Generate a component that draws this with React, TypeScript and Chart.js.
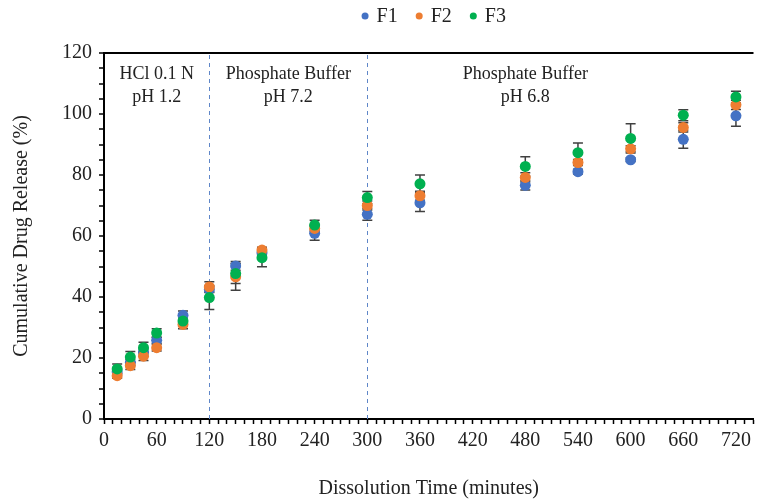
import React, { useEffect, useRef } from 'react';
import { Chart, registerables } from 'chart.js';

Chart.register(...registerables);

const times = [15, 30, 45, 60, 90, 120, 150, 180, 240, 300, 360, 480, 540, 600, 660, 720];
const f1 = [15.5, 18.5, 22, 25.8, 34, 42.5, 50.2, 54.5, 60.9, 67.1, 70.9, 76.6, 81.1, 85, 91.7, 99.4];
const f1Err = [1, 1, 1, 1, 1.4, 1, 1.4, 1, 2.3, 1.9, 2.9, 1.5, 0.8, 0.6, 2.9, 3.4];
const f2 = [14.2, 17.5, 20.6, 23.4, 31, 43.3, 46.6, 55.4, 62.5, 70, 73.2, 79.2, 84.1, 88.6, 95.6, 103];
const f2Err = [0.8, 1.3, 1.4, 1.1, 1.4, 1.7, 4.4, 0.9, 1, 1.5, 1.5, 1.5, 1, 1, 1.5, 1.5];
const f3 = [16.4, 20.3, 23.4, 28.2, 32.1, 39.8, 47.7, 52.9, 63.6, 72.6, 77.1, 82.8, 87.3, 92, 99.6, 105.6];
const f3Err = [1.6, 1.8, 1.8, 1.4, 1, 3.9, 3.3, 3, 1.6, 2, 2.9, 3.2, 3.2, 4.8, 1.8, 1.9];

const seriesNames = ['F1', 'F2', 'F3'];
const seriesColors = ['#4472C4', '#ED7D31', '#00B050'];

const phaseBoundaries = [120, 300];
const phaseLabelX = [60, 210, 480];
const phaseLabelLines = [
  ['HCl 0.1 N', 'pH 1.2'],
  ['Phosphate Buffer', 'pH 7.2'],
  ['Phosphate Buffer', 'pH 6.8'],
];
const phaseLabelY = [113, 105.5];

const FONT = "'Liberation Serif', 'Times New Roman', serif";

const errorBarPlugin = {
  id: 'errorBars',
  beforeDatasetsDraw(chart: any) {
    const { ctx, scales } = chart;
    const y = scales.y;
    const x = scales.x;
    const area = chart.chartArea;
    ctx.save();
    ctx.strokeStyle = '#5F86C8';
    ctx.lineWidth = 1;
    ctx.setLineDash([4, 4]);
    phaseBoundaries.forEach((b) => {
      const px = Math.round(x.getPixelForValue(b)) + 0.5;
      ctx.beginPath();
      ctx.moveTo(px, area.top + 2);
      ctx.lineTo(px, area.bottom);
      ctx.stroke();
    });
    ctx.restore();

    ctx.save();
    ctx.strokeStyle = '#404040';
    ctx.lineWidth = 1.5;
    chart.data.datasets.forEach((ds: any, di: number) => {
      const meta = chart.getDatasetMeta(di);
      const errs = ds.errors as number[];
      meta.data.forEach((pt: any, i: number) => {
        const v = ds.data[i].y;
        const e = errs[i];
        const yt = y.getPixelForValue(v + e);
        const yb = y.getPixelForValue(v - e);
        const px = pt.x;
        ctx.beginPath();
        ctx.moveTo(px, yt);
        ctx.lineTo(px, yb);
        ctx.moveTo(px - 5, yt);
        ctx.lineTo(px + 5, yt);
        ctx.moveTo(px - 5, yb);
        ctx.lineTo(px + 5, yb);
        ctx.stroke();
      });
    });
    ctx.restore();
  },
  afterDatasetsDraw(chart: any) {
    const { ctx, scales } = chart;
    ctx.save();
    ctx.fillStyle = '#222';
    ctx.font = `18px ${FONT}`;
    ctx.textAlign = 'center';
    ctx.textBaseline = 'middle';
    phaseLabelX.forEach((lx, i) => {
      const px = scales.x.getPixelForValue(lx);
      phaseLabelLines[i].forEach((line, j) => {
        ctx.fillText(line, px, scales.y.getPixelForValue(phaseLabelY[j]));
      });
    });
    ctx.restore();
  },
  afterDraw(chart: any) {
    const { ctx, chartArea } = chart;
    ctx.save();
    ctx.font = `20px ${FONT}`;
    ctx.textBaseline = 'middle';
    ctx.textAlign = 'left';
    const r = 3.5;
    const gapCircleText = 8;
    const gapItems = 18;
    const widths = seriesNames.map((n) => ctx.measureText(n).width);
    const total = widths.reduce((s, w) => s + 2 * r + gapCircleText + w, 0) + gapItems * (seriesNames.length - 1);
    let cx = (chartArea.left + chartArea.right) / 2 + 5 - total / 2;
    const cy = 16;
    seriesNames.forEach((n, i) => {
      ctx.fillStyle = seriesColors[i];
      ctx.beginPath();
      ctx.arc(cx + r, cy, r, 0, Math.PI * 2);
      ctx.fill();
      cx += 2 * r + gapCircleText;
      ctx.fillStyle = '#222';
      ctx.fillText(n, cx, cy + 1);
      cx += widths[i] + gapItems;
    });
    ctx.restore();
  },
};

export default function App() {
  const ref = useRef<HTMLCanvasElement>(null);
  useEffect(() => {
    if (!ref.current) return;
    const values = [f1, f2, f3];
    const errs = [f1Err, f2Err, f3Err];
    const chart = new Chart(ref.current, {
      type: 'scatter',
      data: {
        datasets: seriesNames.map((name, si) => ({
          label: name,
          data: times.map((t, i) => ({ x: t, y: values[si][i] })),
          errors: errs[si],
          backgroundColor: seriesColors[si],
          borderColor: seriesColors[si],
          borderWidth: 0,
          pointRadius: 5.5,
          pointHoverRadius: 5.5,
          order: 3 - si,
        })) as any,
      },
      options: {
        responsive: false,
        animation: false,
        devicePixelRatio: 1,
        layout: { padding: { top: 53, right: 2, bottom: 0, left: 0 } },
        plugins: {
          tooltip: { enabled: false },
          legend: { display: false },
        },
        scales: {
          x: {
            type: 'linear',
            min: 0,
            max: 740,
            afterFit: (s: any) => { s.height = 83; },
            border: { display: true, color: '#000', width: 2 },
            grid: {
              drawOnChartArea: false,
              drawTicks: true,
              tickLength: 5,
              tickColor: '#000',
              tickWidth: 1.5,
            },
            ticks: {
              stepSize: 10,
              autoSkip: false,
              maxRotation: 0,
              padding: 5,
              color: '#222',
              font: { family: FONT, size: 20 },
              callback: (v: any) => (v % 60 === 0 ? String(v) : ''),
            },
            title: {
              display: true,
              text: 'Dissolution Time (minutes)',
              color: '#222',
              font: { family: FONT, size: 20 },
              padding: { top: 4, bottom: 1 },
            },
          },
          y: {
            type: 'linear',
            min: 0,
            max: 120,
            afterFit: (s: any) => { s.width = 104; },
            border: { display: true, color: '#000', width: 2 },
            grid: {
              drawOnChartArea: true,
              drawTicks: true,
              tickLength: 5,
              tickColor: '#000',
              tickWidth: 1.5,
              color: (c: any) => (c.tick && c.tick.value === 120 ? '#000' : 'rgba(0,0,0,0)'),
              lineWidth: (c: any) => (c.tick && c.tick.value === 120 ? 2 : 0),
            },
            ticks: {
              stepSize: 5,
              autoSkip: false,
              padding: 7,
              color: '#222',
              font: { family: FONT, size: 20 },
              callback: (v: any) => (v % 20 === 0 ? String(v) : ''),
            },
            title: {
              display: true,
              text: 'Cumulative Drug Release (%)',
              color: '#222',
              font: { family: FONT, size: 20 },
              padding: { top: 10, bottom: 4 },
            },
          },
        },
      } as any,
      plugins: [errorBarPlugin],
    });
    return () => chart.destroy();
  }, []);

  return (
    <div style={{ position: 'absolute', left: 0, top: 0, width: 759, height: 502, background: '#fff' }}>
      <canvas ref={ref} width={759} height={502} />
    </div>
  );
}
